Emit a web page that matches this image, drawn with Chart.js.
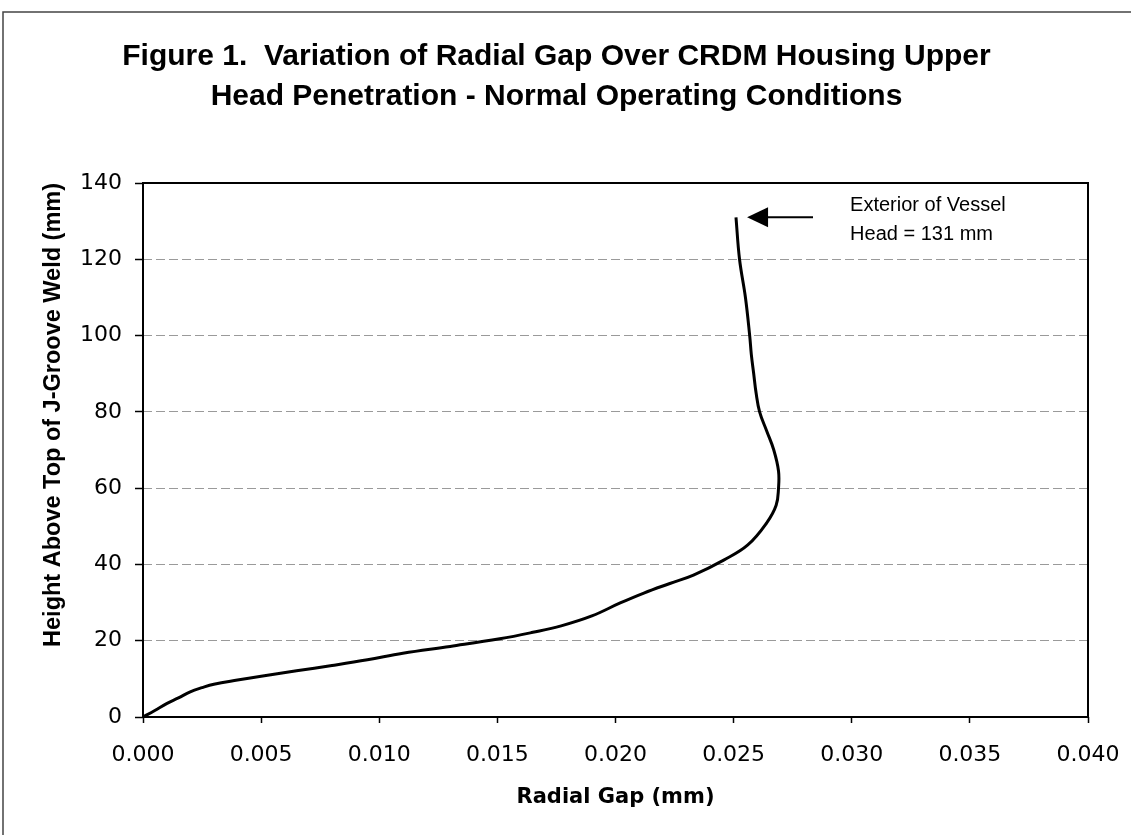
<!DOCTYPE html>
<html>
<head>
<meta charset="utf-8">
<script src="https://cdn.jsdelivr.net/npm/chart.js@4.4.0/dist/chart.umd.min.js"></script>
<style>
    html, body { margin: 0; padding: 0; background: #fff; }
</style>
</head>
<body>
<canvas id="chart1" width="1131" height="835"></canvas>
<script>
// radial gap (mm) along the penetration
const gapValues = [
    0, 0.0005, 0.001, 0.0015, 0.002, 0.0025, 0.003, 0.004, 0.005, 0.0065,
    0.008, 0.0095, 0.011, 0.013, 0.0151, 0.0165, 0.0177, 0.019, 0.0202, 0.0212,
    0.0223, 0.0233, 0.0246, 0.0256, 0.0264, 0.0268, 0.0269, 0.0269, 0.0267, 0.0264,
    0.0261, 0.02595, 0.02585, 0.02575, 0.02568, 0.0255, 0.02525, 0.0251
];
// height above top of J-groove weld (mm)
const heightValues = [
    0, 1.7, 3.5, 5.0, 6.6, 7.7, 8.6, 9.7, 10.7, 12.1,
    13.5, 15.0, 16.7, 18.5, 20.5, 22.2, 23.9, 26.5, 29.9, 32.5,
    35.0, 37.2, 41.2, 45.1, 50.9, 55.5, 60.0, 64.5, 70.0, 75.0,
    80.0, 85.0, 90.0, 95.0, 100.0, 110.0, 120.0, 131.0
];
const xTicks = [0, 0.005, 0.01, 0.015, 0.02, 0.025, 0.03, 0.035, 0.04];
const yTicks = [0, 20, 40, 60, 80, 100, 120, 140];

const titleLines = [
    "Figure 1.  Variation of Radial Gap Over CRDM Housing Upper",
    "Head Penetration - Normal Operating Conditions",
];
const noteLines = ["Exterior of Vessel", "Head = 131 mm"];
// arrow pointing at the top of the curve (in data units)
const arrowHeight = 131;
const arrowTipGap = 0.02557;
const arrowTailGap = 0.02836;
const noteGap = 0.02993;

function buildPoints() {
    var pts = [];
    for (let i = 0; i < gapValues.length; i++) {
        pts.push({ x: gapValues[i], y: heightValues[i] });
    }
    return pts;
}

const framePlugin = {
    id: "frame",
    beforeDraw(chart) {
        const ctx = chart.ctx;
        ctx.save();
        ctx.fillStyle = "#fff";
        ctx.fillRect(0, 0, chart.width, chart.height);
        ctx.strokeStyle = "#444";
        ctx.lineWidth = 1.5;
        ctx.beginPath();
        ctx.moveTo(3, chart.height);
        ctx.lineTo(3, 12);
        ctx.lineTo(chart.width, 12);
        ctx.stroke();
        ctx.restore();
    },
    afterDatasetsDraw(chart) {
        const ctx = chart.ctx;
        const a = chart.chartArea;
        const xs = chart.scales.x;
        const ys = chart.scales.y;
        ctx.save();
        ctx.strokeStyle = "#000";
        ctx.lineWidth = 2;
        ctx.strokeRect(a.left, a.top, a.right - a.left, a.bottom - a.top);

        // arrow
        const tipX = xs.getPixelForValue(arrowTipGap);
        const tailX = xs.getPixelForValue(arrowTailGap);
        const y = ys.getPixelForValue(arrowHeight);
        ctx.lineWidth = 2;
        ctx.beginPath();
        ctx.moveTo(tipX + 15, y);
        ctx.lineTo(tailX, y);
        ctx.stroke();
        ctx.fillStyle = "#000";
        ctx.beginPath();
        ctx.moveTo(tipX, y);
        ctx.lineTo(tipX + 21, y - 10);
        ctx.lineTo(tipX + 21, y + 10);
        ctx.closePath();
        ctx.fill();

        ctx.font = '20px "Liberation Sans", Arial, sans-serif';
        ctx.textAlign = "left";
        ctx.textBaseline = "alphabetic";
        const nx = xs.getPixelForValue(noteGap);
        ctx.fillText(noteLines[0], nx, y - 6);
        ctx.fillText(noteLines[1], nx, y + 23);
        ctx.restore();
    },
};

const ctx = document.getElementById("chart1");
const chart = new Chart(ctx, {
    type: "scatter",
    data: {
        datasets: [
            {
                data: buildPoints(),
                showLine: true,
                borderColor: "#000",
                borderWidth: 3,
                pointRadius: 0,
                tension: 0.4,
                fill: false,
            },
        ],
    },
    options: {
        responsive: false,
        animation: false,
        layout: { padding: { left: 0, right: 18, top: 0, bottom: 0 } },
        plugins: {
            legend: { display: false },
            tooltip: { enabled: false },
            title: {
                display: true,
                text: titleLines,
                color: "#000",
                font: { family: "Liberation Sans", size: 30, weight: "bold", lineHeight: "40px" },
                padding: { top: 37, bottom: 66 },
            },
        },
        scales: {
            x: {
                type: "linear",
                min: 0,
                max: 0.04,
                afterBuildTicks: (s) => { s.ticks = xTicks.map((v) => ({ value: v })); },
                afterFit: (s) => {
                    s.height = 118;
                    s.paddingRight = 43;
                },
                border: { display: false },
                grid: {
                    drawOnChartArea: false,
                    drawTicks: true,
                    tickLength: 6,
                    tickColor: "#000",
                    tickWidth: 1.5,
                },
                ticks: {
                    color: "#000",
                    padding: 19,
                    maxRotation: 0,
                    font: { family: "DejaVu Sans", size: 22 },
                    callback: (v) => Number(v).toFixed(3),
                },
                title: {
                    display: true,
                    text: "Radial Gap (mm)",
                    color: "#000",
                    font: { family: "DejaVu Sans", size: 21, weight: "bold" },
                    padding: { top: 0, bottom: 25 },
                },
            },
            y: {
                type: "linear",
                min: 0,
                max: 140,
                afterBuildTicks: (s) => { s.ticks = yTicks.map((v) => ({ value: v })); },
                afterFit: (s) => { s.width = 143; },
                border: { display: false, dash: [9, 4] },
                grid: {
                    color: "#9a9a9a",
                    lineWidth: 1,
                    tickLength: 8,
                    tickColor: "#000",
                    tickWidth: 1.5,
                    tickBorderDash: [],
                },
                ticks: {
                    color: "#000",
                    padding: 13,
                    font: { family: "DejaVu Sans", size: 22 },
                },
                title: {
                    display: true,
                    text: "Height Above Top of J-Groove Weld (mm)",
                    align: "end",
                    color: "#000",
                    font: { family: "Liberation Sans", size: 23.5, weight: "bold" },
                    padding: { top: 39, bottom: 0 },
                },
            },
        },
    },
    plugins: [framePlugin],
});
</script>
</body>
</html>
